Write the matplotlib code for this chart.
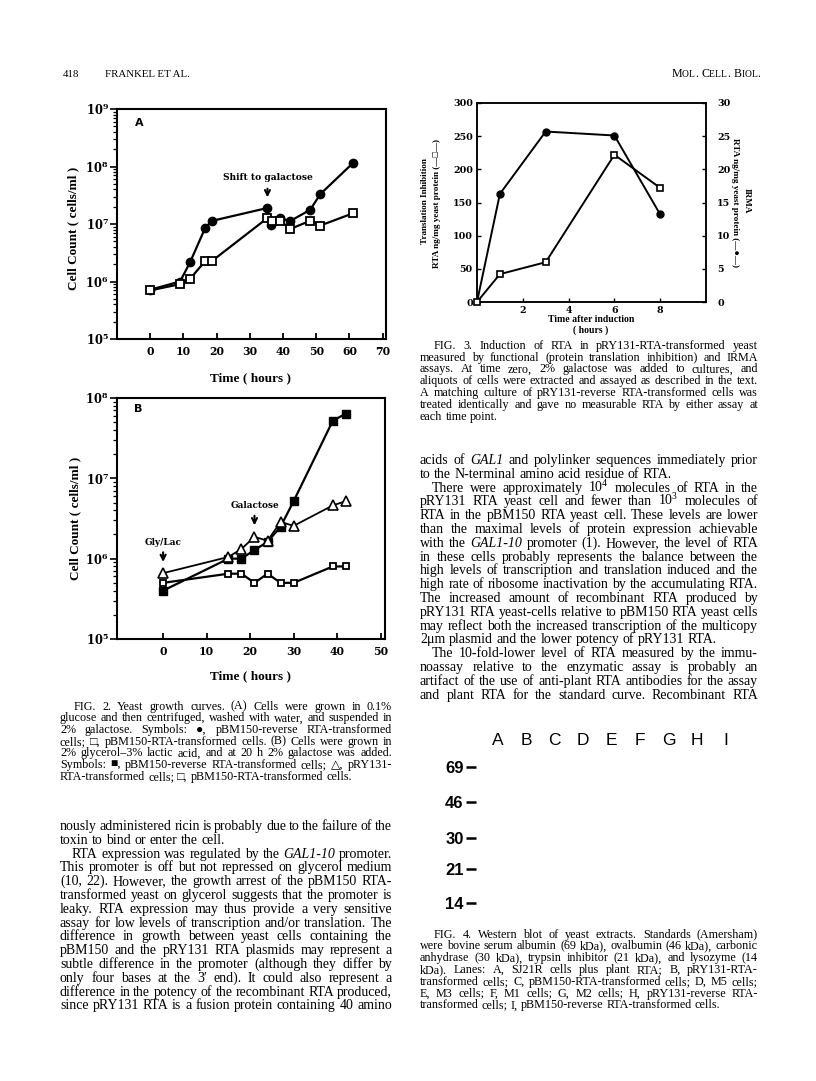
# journal page: FIG. 2 (A, B), FIG. 3, FIG. 4 with captions and body text

import numpy as np
import matplotlib
matplotlib.use('Agg')
import matplotlib.pyplot as plt
from matplotlib.transforms import IdentityTransform
from matplotlib.ticker import LogLocator, NullFormatter, NullLocator

plt.rcParams['font.family'] = ['DejaVu Serif']
plt.rcParams['font.weight'] = 'bold'
plt.rcParams['mathtext.fontset'] = 'custom'
plt.rcParams['mathtext.default'] = 'regular'
plt.rcParams['mathtext.bf'] = 'DejaVu Serif:bold'

# FIG. 2A data (time in hours, cells/ml)
a_time_circ = [0, 9, 12, 16.5, 18.5, 35.3, 36.3, 39.2, 42.2, 48.2, 51.2, 61]
a_circ = [7.2e5, 1.0e6, 2.16e6, 8.4e6, 1.13e7, 1.9e7, 9.6e6, 1.25e7, 1.13e7, 1.77e7, 3.3e7, 1.14e8]
a_time_sq = [0, 9, 12, 16.5, 18.5, 35.3, 36.6, 39.2, 42.2, 48.2, 51.2, 61]
a_sq = [7.0e5, 9.0e5, 1.11e6, 2.25e6, 2.25e6, 1.27e7, 1.14e7, 1.14e7, 8.2e6, 1.14e7, 9.4e6, 1.53e7]

# FIG. 2B data
b_time = [0, 15, 18, 21, 24, 27, 30, 39, 42]
b_rev = [4.0e5, 1.0e6, 1.0e6, 1.28e6, 1.62e6, 2.5e6, 5.2e6, 5.2e7, 6.4e7]
b_pry = [6.6e5, 1.05e6, 1.32e6, 1.87e6, 1.67e6, 2.87e6, 2.56e6, 4.6e6, 5.2e6]
b_pbm = [5.0e5, 6.5e5, 6.5e5, 5.0e5, 6.5e5, 5.0e5, 5.0e5, 8.0e5, 8.0e5]

# FIG. 3 data
t_hours = [0, 1, 3, 6, 8]
trans_inh = [0, 42, 60, 222, 172]
irma = [0, 16.3, 25.7, 25.1, 13.2]

# FIG. 4 labels
lanes = ['A', 'B', 'C', 'D', 'E', 'F', 'G', 'H', 'I']
kda = [69, 46, 30, 21, 14]

decade_labels = [r'$\mathbf{10^{%d}}$' % e for e in range(5, 10)]

# text blocks ('\t' = indented line, trailing '|' = last line of paragraph)
cap2 = ['\tFIG. 2. Yeast growth curves. (A) Cells were grown in 0.1%',
        'glucose and then centrifuged, washed with water, and suspended in',
        '2% galactose. Symbols: ●, pBM150-reverse RTA-transformed',
        'cells; □, pBM150-RTA-transformed cells. (B) Cells were grown in',
        '2% glycerol–3% lactic acid, and at 20 h 2% galactose was added.',
        'Symbols: ■, pBM150-reverse RTA-transformed cells; △, pRY131-',
        'RTA-transformed cells; □, pBM150-RTA-transformed cells.|']
cap3 = ['\tFIG. 3. Induction of RTA in pRY131-RTA-transformed yeast',
        'measured by functional (protein translation inhibition) and IRMA',
        'assays. At time zero, 2% galactose was added to cultures, and',
        'aliquots of cells were extracted and assayed as described in the text.',
        'A matching culture of pRY131-reverse RTA-transformed cells was',
        'treated identically and gave no measurable RTA by either assay at',
        'each time point.|']
cap4 = ['\tFIG. 4. Western blot of yeast extracts. Standards (Amersham)',
        'were bovine serum albumin (69 kDa), ovalbumin (46 kDa), carbonic',
        'anhydrase (30 kDa), trypsin inhibitor (21 kDa), and lysozyme (14',
        'kDa). Lanes: A, SJ21R cells plus plant RTA; B, pRY131-RTA-',
        'transformed cells; C, pBM150-RTA-transformed cells; D, M5 cells;',
        'E, M3 cells; F, M1 cells; G, M2 cells; H, pRY131-reverse RTA-',
        'transformed cells; I, pBM150-reverse RTA-transformed cells.|']
body_left = ['nously administered ricin is probably due to the failure of the',
             'toxin to bind or enter the cell.|',
             '\tRTA expression was regulated by the ~GAL1-10 promoter.',
             'This promoter is off but not repressed on glycerol medium',
             '(10, 22). However, the growth arrest of the pBM150 RTA-',
             'transformed yeast on glycerol suggests that the promoter is',
             'leaky. RTA expression may thus provide a very sensitive',
             'assay for low levels of transcription and/or translation. The',
             'difference in growth between yeast cells containing the',
             'pBM150 and the pRY131 RTA plasmids may represent a',
             'subtle difference in the promoter (although they differ by',
             'only four bases at the 3′ end). It could also represent a',
             'difference in the potency of the recombinant RTA produced,',
             'since pRY131 RTA is a fusion protein containing 40 amino']
body_right = ['acids of ~GAL1 and polylinker sequences immediately prior',
              'to the N-terminal amino acid residue of RTA.|',
              '\tThere were approximately 10$^4$ molecules of RTA in the',
              'pRY131 RTA yeast cell and fewer than 10$^3$ molecules of',
              'RTA in the pBM150 RTA yeast cell. These levels are lower',
              'than the maximal levels of protein expression achievable',
              'with the ~GAL1-10 promoter (1). However, the level of RTA',
              'in these cells probably represents the balance between the',
              'high levels of transcription and translation induced and the',
              'high rate of ribosome inactivation by the accumulating RTA.',
              'The increased amount of recombinant RTA produced by',
              'pRY131 RTA yeast-cells relative to pBM150 RTA yeast cells',
              'may reflect both the increased transcription of the multicopy',
              '2μm plasmid and the lower potency of pRY131 RTA.|',
              '\tThe 10-fold-lower level of RTA measured by the immu-',
              'noassay relative to the enzymatic assay is probably an',
              'artifact of the use of anti-plant RTA antibodies for the assay',
              'and plant RTA for the standard curve. Recombinant RTA']

W, H = 816, 1081
SERIF = ['Liberation Serif', 'DejaVu Sans']
LBL = ['Liberation Serif']

fig = plt.figure(figsize=(8.16, 10.81), dpi=100)
r = fig.canvas.get_renderer()


def box(l, t, rr, b):
    return [l / W, 1 - b / H, (rr - l) / W, (b - t) / H]


def px(x, y, s, **kw):
    return fig.text(x / W, 1 - y / H, s, **kw)


def block(lines, x0, x1, y0, step, size, indent=12):
    for i, s in enumerate(lines):
        last = s.endswith('|')
        s = s.rstrip('|')
        xs = x0 + (indent if s.startswith('\t') else 0)
        words = s.split()
        arts = []
        for w in words:
            it = w.startswith('~')
            arts.append(fig.text(0, 0, w.lstrip('~'), fontsize=size, family=SERIF,
                                 weight='normal', style='italic' if it else 'normal',
                                 va='baseline', transform=IdentityTransform()))
        ws = [a.get_window_extent(r).width for a in arts]
        gap = size * 100 / 72 * 0.25
        if not last and len(arts) > 1:
            gap = (x1 - xs - sum(ws)) / (len(arts) - 1)
        x = xs
        yb = H - (y0 + i * step) - size * 100 / 72 * 0.22
        for a, w in zip(arts, ws):
            a.set_position((x, yb))
            x += w + gap


def smallcaps(x, y, s, size, right=False):
    arts, ws = [], []
    for ch in s:
        if ch == ' ':
            arts.append(None)
            ws.append(size * 100 / 72 * 0.3)
            continue
        sz = size * 0.8 if ch.islower() else size
        a = fig.text(0, 0, ch.upper(), fontsize=sz, family=SERIF, weight='normal',
                     va='baseline', transform=IdentityTransform())
        arts.append(a)
        ws.append(a.get_window_extent(r).width)
    if right:
        x -= sum(ws)
    for a, w in zip(arts, ws):
        if a is not None:
            a.set_position((x, H - y))
        x += w


def log_panel(ax, xmax, xticks):
    ax.set_yscale('log')
    ax.set_xlim(-10, xmax)
    ax.set_xticks(xticks)
    ax.yaxis.set_minor_locator(LogLocator(base=10, subs=np.arange(2, 10)))
    ax.yaxis.set_minor_formatter(NullFormatter())
    ax.tick_params(axis='y', which='major', direction='out', length=5, width=1.2, pad=1, labelsize=8.3)
    ax.tick_params(axis='y', which='minor', direction='out', length=3, width=0.9)
    ax.tick_params(axis='x', direction='in', length=4, width=1.3, pad=5, labelsize=7.8)
    for sp in ax.spines.values():
        sp.set_linewidth(1.5)


# ---- header ----
px(63, 77, '418', fontsize=7.8, family=SERIF, weight='normal', va='baseline')
px(105, 77, 'FRANKEL ET AL.', fontsize=7.8, family=SERIF, weight='normal', va='baseline')
smallcaps(760, 77, 'Mol. Cell. Biol.', 8.6, right=True)

# ---- FIG. 2A ----
axA = fig.add_axes(box(117, 109, 386, 339))
axA.plot(a_time_circ, a_circ, color='k', lw=1.6, marker='o', ms=6, clip_on=False)
axA.plot(a_time_sq, a_sq, color='k', lw=1.6, marker='s', ms=5.5, mfc='white', mew=1.3, clip_on=False)
log_panel(axA, 71, range(0, 80, 10))
axA.set_ylim(1e5, 1e9)
axA.set_yticks([1e5, 1e6, 1e7, 1e8, 1e9], labels=decade_labels)
axA.text(0.065, 0.94, 'A', transform=axA.transAxes, fontsize=8, family='DejaVu Sans',
         weight='bold', va='center')
axA.annotate('', xy=(35.3, 2.6e7), xytext=(35.3, 4.6e7),
             arrowprops=dict(arrowstyle='->', lw=1.5, color='k', mutation_scale=9))
axA.text(35.6, 6.5e7, 'Shift to galactose', ha='center', va='center', fontsize=6.6)
px(250, 378, 'Time ( hours )', ha='center', va='center', fontsize=9.5, family=LBL)
px(73, 228, 'Cell Count ( cells/ml )', ha='center', va='center', rotation=90,
   fontsize=9.5, family=LBL)

# ---- FIG. 2B ----
axB = fig.add_axes(box(117, 398, 385, 639))
axB.plot(b_time, b_rev, color='k', lw=1.6, marker='s', ms=5.5, clip_on=False)
axB.plot(b_time, b_pry, color='k', lw=1.3, marker='^', ms=7, mfc='white', mew=1.2, clip_on=False)
axB.plot(b_time, b_pbm, color='k', lw=1.6, marker='s', ms=5, mfc='white', mew=1.3, clip_on=False)
log_panel(axB, 51, range(0, 60, 10))
axB.set_xlim(-10.6, 51)
axB.set_ylim(1e5, 1e8)
axB.set_yticks([1e5, 1e6, 1e7, 1e8], labels=decade_labels[:4])
axB.text(0.065, 0.955, 'B', transform=axB.transAxes, fontsize=8, family='DejaVu Sans',
         weight='bold', va='center')
axB.annotate('', xy=(0, 8.4e5), xytext=(0, 1.3e6),
             arrowprops=dict(arrowstyle='->', lw=1.5, color='k', mutation_scale=9))
axB.text(0, 1.6e6, 'Gly/Lac', ha='center', va='center', fontsize=6.4)
axB.annotate('', xy=(21, 2.4e6), xytext=(21, 3.7e6),
             arrowprops=dict(arrowstyle='->', lw=1.5, color='k', mutation_scale=9))
axB.text(21, 4.6e6, 'Galactose', ha='center', va='center', fontsize=6.4)
px(250, 676, 'Time ( hours )', ha='center', va='center', fontsize=9.5, family=LBL)
px(75, 518, 'Cell Count ( cells/ml )', ha='center', va='center', rotation=90,
   fontsize=9.5, family=LBL)

# ---- FIG. 3 ----
ax3 = fig.add_axes(box(477, 103, 706, 302))
ax3b = ax3.twinx()
ax3b.plot(t_hours, irma, color='k', lw=1.4, marker='o', ms=5, markevery=[1, 2, 3, 4], clip_on=False)
ax3.plot(t_hours, trans_inh, color='k', lw=1.4, marker='s', ms=5, mfc='white', mew=1.2,
         clip_on=False, zorder=5)
ax3.set_zorder(ax3b.get_zorder() + 1)
ax3.patch.set_visible(False)
ax3.set_xlim(0, 10)
ax3.set_ylim(0, 300)
ax3b.set_ylim(0, 30)
ax3.set_xticks([2, 4, 6, 8])
ax3.set_yticks(range(0, 301, 50))
ax3b.set_yticks(range(0, 31, 5))
ax3.tick_params(direction='in', length=3, width=1, labelsize=6.8, pad=3)
ax3b.tick_params(direction='in', length=3, width=1, labelsize=6.8, pad=8)
for sp in list(ax3.spines.values()) + list(ax3b.spines.values()):
    sp.set_linewidth(1.1)
px(591, 319, 'Time after induction', ha='center', va='center', fontsize=7, family=LBL)
px(591, 330, '( hours )', ha='center', va='center', fontsize=7, family=LBL)
px(425, 201, 'Translation Inhibition', ha='center', va='center', rotation=90, fontsize=6.6, family=LBL)
px(437, 203, 'RTA ng/mg yeast protein (—□—)', ha='center', va='center', rotation=90,
   fontsize=6.6, family=['Liberation Serif', 'DejaVu Sans'])
px(747, 201, 'IRMA', ha='center', va='center', rotation=270, fontsize=6.6, family=LBL)
px(735, 203, 'RTA ng/mg yeast protein (—●—)', ha='center', va='center', rotation=270,
   fontsize=6.6, family=['Liberation Serif', 'DejaVu Sans'])

# ---- FIG. 4 (blot labels only) ----
axW = fig.add_axes(box(476, 752, 740, 915))
axW.set_yscale('log')
axW.set_ylim(12.2, 82.2)
axW.set_xlim(-0.75, 8.5)
axW.set_yticks(kda, labels=[str(k) for k in kda])
axW.yaxis.set_minor_locator(NullLocator())
axW.set_xticks(range(len(lanes)), labels=lanes)
axW.xaxis.tick_top()
axW.tick_params(axis='x', length=0, pad=3, labelsize=12.5)
axW.tick_params(axis='y', length=7, width=1.8, pad=2, labelsize=12)
for lab in axW.get_xticklabels() + axW.get_yticklabels():
    lab.set_fontfamily(['Liberation Sans Narrow', 'Liberation Sans'])
    lab.set_fontweight('normal')
for lab in axW.get_yticklabels():
    lab.set_fontweight('bold')
for sp in axW.spines.values():
    sp.set_visible(False)
axW.patch.set_visible(False)

# ---- captions and running text ----
block(cap2, 60, 392, 707, 11.7, 8.7, indent=14)
block(body_left, 60, 392, 827, 13.8, 10)
block(cap3, 420, 758, 346, 11.9, 8.7, indent=14)
block(body_right, 420, 758, 461, 13.8, 10)
block(cap4, 420, 758, 935, 11.8, 8.7, indent=14)

fig.savefig('out.png', dpi=100)
